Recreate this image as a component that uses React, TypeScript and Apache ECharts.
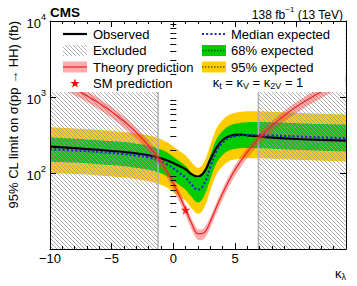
import React, { useEffect, useRef } from 'react';
import * as echarts from 'echarts';

// ---------- data ----------
const kGrid = [-10, -8, -6, -4, -3, -2, -1, -0.5, 0, 0.5, 1, 1.5, 2, 2.5, 3, 3.5, 4, 4.5, 5, 5.5, 6, 7, 8, 10, 12, 14];
const observed = [222, 212, 201, 189, 181, 171, 156, 146, 135, 124, 112, 96, 90, 103, 150, 215, 272, 303, 318, 320, 313, 302, 292, 280, 272, 267];
const medianExp = [205, 198, 189, 178, 170, 160, 143, 130, 115, 100, 87, 70, 60, 72, 120, 195, 250, 288, 305, 313, 316, 316, 312, 302, 293, 287];
const band68Up = [293, 283, 270, 255, 243, 229, 204, 186, 164, 143, 124, 100, 86, 103, 172, 279, 358, 415, 445, 460, 467, 470, 465, 452, 440, 432];
const band68Lo = [141, 137, 130, 123, 117, 110, 99, 90, 79, 69, 60, 48, 41, 50, 83, 135, 172, 197, 207, 212, 213, 212, 209, 202, 196, 192];
const band95Up = [400, 386, 369, 347, 332, 312, 279, 254, 224, 195, 170, 137, 117, 140, 234, 385, 500, 580, 620, 640, 650, 650, 642, 622, 603, 590];
const band95Lo = [100, 97, 93, 87, 83, 78, 70, 64, 56, 49, 43, 34, 29, 35, 59, 96, 123, 142, 150, 154, 156, 156, 154, 149, 145, 142];

const theoryK = [-10, -9, -8, -7, -6, -5, -4, -3, -2, -1, -0.5, 0, 0.5, 1, 1.5, 2, 2.5, 3, 3.5, 4, 4.5, 5, 5.5, 6, 7, 8, 9, 10, 11, 12, 13, 14];
const theory = [1809, 1527, 1269, 1035, 826, 640, 478, 341, 228, 140, 103, 73, 50, 33, 21.5, 15.8, 16.4, 23, 35.7, 54, 79, 110, 146, 189, 293, 420, 572, 748, 948, 1172, 1420, 1693];
const theoryUp = [2080, 1756, 1459, 1190, 950, 736, 550, 392, 262, 161, 118, 84, 57.5, 38, 24.7, 18.2, 18.9, 26.5, 41, 62, 91, 126.5, 168, 217, 337, 483, 658, 860, 1090, 1348, 1633, 1947];
const theoryLo = [1501, 1267, 1053, 859, 686, 531, 397, 283, 189, 116, 85.5, 60.6, 41.5, 27.4, 17.8, 13.1, 13.6, 19.1, 29.6, 44.8, 65.6, 91.3, 121, 157, 243, 349, 475, 621, 787, 973, 1179, 1405];

const smPrediction = [1, 32.7];
const excludedRegions = [
  [-10, -1.24],
  [6.9, 14],
];

const xMajorTicks = [-10, -5, 0, 5, 10];
const xMinorTicks = [-9, -8, -7, -6, -4, -3, -2, -1, 1, 2, 3, 4, 6, 7, 8, 9, 11, 12, 13];
const yMajorTicks = [10, 100, 1000, 10000];
const yLabelTicks = [100, 1000, 10000];
const yMinorTicks = [20, 30, 40, 50, 60, 70, 80, 90, 200, 300, 400, 500, 600, 700, 800, 900, 2000, 3000, 4000, 5000, 6000, 7000, 8000, 9000];

const X_MIN = -10;
const X_MAX = 14;
const Y_MIN = 10;
const Y_MAX = 10000;

const FONT = 'Liberation Sans';
const YELLOW = '#ffcc00';
const GREEN = '#00cc00';
const BLUE = '#2222d4';
const RED = '#f02828';
const RED_BAND = 'rgba(245, 60, 60, 0.42)';
const HATCH = '#9c9c9c';
const SMOOTH = 0.4;

function hatchLines(L: number, T: number, R: number, B: number, step: number, color: string, width: number) {
  const out: any[] = [];
  const cStart = Math.floor((L - B) / step) * step;
  for (let c = cStart; c <= R - T; c += step) {
    const xs = Math.max(L, T + c);
    const xe = Math.min(R, B + c);
    if (xe > xs) {
      out.push({
        type: 'line',
        shape: { x1: xs, y1: xs - c, x2: xe, y2: xe - c },
        style: { stroke: color, lineWidth: width },
        silent: true,
      });
    }
  }
  return out;
}

function starPoints(cx: number, cy: number, ro: number, ri: number) {
  const pts: number[][] = [];
  for (let i = 0; i < 10; i++) {
    const r = i % 2 === 0 ? ro : ri;
    const a = -Math.PI / 2 + (i * Math.PI) / 5;
    pts.push([cx + r * Math.cos(a), cy + r * Math.sin(a)]);
  }
  return pts;
}

const STAR_PATH =
  'path://M12,0 L14.7,8.3 L23.4,8.3 L16.4,13.5 L19.1,21.8 L12,16.7 L4.9,21.8 L7.6,13.5 L0.6,8.3 L9.3,8.3 Z';

function pairs(xs: number[], ys: number[]) {
  return xs.map((x, i) => [x, ys[i]]);
}

function buildOption() {
  const baseX: any = { type: 'value', min: X_MIN, max: X_MAX, z: 100, splitLine: { show: false } };
  const baseY: any = { type: 'log', logBase: 10, min: Y_MIN, max: Y_MAX, z: 100, splitLine: { show: false } };
  const lineBlack = { color: '#000', width: 1 };

  const xAxis = [
    {
      ...baseX,
      position: 'bottom',
      interval: 5,
      axisLine: { show: true, onZero: false, lineStyle: lineBlack },
      axisTick: { show: true, inside: true, length: 6, customValues: xMajorTicks, lineStyle: lineBlack },
      axisLabel: {
        show: true,
        customValues: xMajorTicks,
        showMaxLabel: false,
        margin: 3,
        fontFamily: FONT,
        fontSize: 13,
        color: '#000',
        formatter: (v: number) => (v < 0 ? '\u2212' + Math.abs(v) : String(v)),
      },
    },
    {
      ...baseX,
      position: 'bottom',
      interval: 1,
      axisLine: { show: false },
      axisTick: { show: true, inside: true, length: 3, customValues: xMinorTicks, lineStyle: lineBlack },
      axisLabel: { show: false },
    },
    {
      ...baseX,
      position: 'top',
      interval: 5,
      axisLine: { show: true, onZero: false, lineStyle: lineBlack },
      axisTick: { show: true, inside: true, length: 6, customValues: xMajorTicks, lineStyle: lineBlack },
      axisLabel: { show: false },
    },
    {
      ...baseX,
      position: 'top',
      interval: 1,
      axisLine: { show: false },
      axisTick: { show: true, inside: true, length: 3, customValues: xMinorTicks, lineStyle: lineBlack },
      axisLabel: { show: false },
    },
  ];

  const yAxis = [
    {
      ...baseY,
      position: 'left',
      axisLine: { show: true, onZero: false, lineStyle: lineBlack },
      axisTick: { show: true, inside: true, length: 6, customValues: yMajorTicks, lineStyle: lineBlack },
      axisLabel: {
        show: true,
        customValues: yLabelTicks,
        margin: 4,
        color: '#000',
        formatter: (v: number) => {
          const e = Math.round(Math.log10(v));
          if (e <= 1) return '';
          return '{b|10}{s|' + e + '}';
        },
        rich: {
          b: { fontFamily: FONT, fontSize: 13, lineHeight: 17, verticalAlign: 'bottom', color: '#000' },
          s: { fontFamily: FONT, fontSize: 9, lineHeight: 10, verticalAlign: 'top', color: '#000' },
        },
      },
    },
    {
      ...baseY,
      position: 'left',
      axisLine: { show: false },
      axisTick: { show: true, inside: true, length: 3, customValues: yMinorTicks, lineStyle: lineBlack },
      axisLabel: { show: false },
    },
    {
      ...baseY,
      position: 'right',
      axisLine: { show: true, onZero: false, lineStyle: lineBlack },
      axisTick: { show: true, inside: true, length: 6, customValues: yMajorTicks, lineStyle: lineBlack },
      axisLabel: { show: false },
    },
    {
      ...baseY,
      position: 'right',
      axisLine: { show: false },
      axisTick: { show: true, inside: true, length: 3, customValues: yMinorTicks, lineStyle: lineBlack },
      axisLabel: { show: false },
    },
  ];

  // Bands are painted as areas down to the axis floor, layered so that each
  // later layer overwrites the lower part of the earlier one.
  const areaLayer = (name: string, ys: number[], color: string, z2: number) => ({
    type: 'line',
    name,
    z: 2,
    zlevel: 0,
    data: pairs(kGrid, ys),
    showSymbol: false,
    symbol: 'none',
    smooth: SMOOTH,
    silent: true,
    lineStyle: { width: 0, opacity: 0 },
    areaStyle: { color, opacity: 1, origin: 'start' },
    z2,
  });

  const series: any[] = [
    { ...areaLayer('95% expected', band95Up, YELLOW, 0), z: 1 },
    { ...areaLayer('68% expected', band68Up, GREEN, 0), z: 1.2 },
    { ...areaLayer('68% lower', band68Lo, YELLOW, 0), z: 1.4 },
    { ...areaLayer('95% lower', band95Lo, '#ffffff', 0), z: 1.6 },
    {
      type: 'custom',
      name: 'Excluded',
      z: 3,
      silent: true,
      data: excludedRegions.map((r) => [r[0], r[1], Y_MIN, Y_MAX]),
      encode: { x: [0, 1], y: [2, 3] },
      renderItem: (params: any, api: any) => {
        const x0 = api.value(0);
        const x1 = api.value(1);
        const p0 = api.coord([x0, Y_MAX]);
        const p1 = api.coord([x1, Y_MIN]);
        const L = p0[0];
        const T = p0[1];
        const R = p1[0];
        const B = p1[1];
        const children = hatchLines(L, T, R, B, 4, HATCH, 0.8);
        if (x0 > X_MIN) {
          children.push({ type: 'line', shape: { x1: L, y1: T, x2: L, y2: B }, style: { stroke: '#b0b0b0', lineWidth: 1.5 } });
        }
        if (x1 < X_MAX) {
          children.push({ type: 'line', shape: { x1: R, y1: T, x2: R, y2: B }, style: { stroke: '#b0b0b0', lineWidth: 1.5 } });
        }
        return { type: 'group', children };
      },
    },
    {
      type: 'line',
      name: 'Observed',
      z: 4,
      data: pairs(kGrid, observed),
      showSymbol: false,
      symbol: 'none',
      smooth: SMOOTH,
      lineStyle: { color: '#000', width: 2.2 },
    },
    {
      type: 'line',
      name: 'Median expected',
      z: 4.5,
      data: pairs(kGrid, medianExp),
      showSymbol: false,
      symbol: 'none',
      smooth: SMOOTH,
      lineStyle: { color: BLUE, width: 2.2, type: [2, 2.2] },
    },
    {
      type: 'custom',
      name: 'Theory band',
      z: 5,
      silent: true,
      clip: true,
      data: theoryK.map((k, i) => [k, theoryLo[i], theoryUp[i]]),
      encode: { x: 0, y: [1, 2] },
      renderItem: (params: any, api: any) => {
        if (params.dataIndex !== 0) return null;
        const top = theoryK.map((k, i) => api.coord([k, theoryUp[i]]));
        const bot = theoryK.map((k, i) => api.coord([k, theoryLo[i]])).reverse();
        return {
          type: 'polygon',
          shape: { points: top.concat(bot), smooth: 0.3 },
          style: { fill: RED_BAND },
        };
      },
    },
    {
      type: 'line',
      name: 'Theory prediction',
      z: 6,
      data: pairs(theoryK, theory),
      showSymbol: false,
      symbol: 'none',
      smooth: SMOOTH,
      lineStyle: { color: RED, width: 1.3 },
    },
    {
      type: 'scatter',
      name: 'SM prediction',
      z: 7,
      data: [smPrediction],
      symbol: STAR_PATH,
      symbolSize: 10,
      itemStyle: { color: '#ff0000' },
    },
  ];

  // ----- legend & annotations (graphic) -----
  const g: any[] = [];
  g.push({ type: 'rect', z: 50, shape: { x: 50.5, y: 21, width: 295, height: 71 }, style: { fill: '#fff' }, silent: true });

  const Z = 120;
  const txt = (x: number, y: number, text: string, extra: any = {}) => ({
    type: 'text',
    z: Z,
    x,
    y,
    style: { text, font: `13px "${FONT}"`, fill: '#000', align: 'left', verticalAlign: 'middle', ...extra },
  });

  // header
  g.push({ type: 'text', z: Z, x: 50, y: 12.5, style: { text: 'CMS', font: `bold 13.5px "${FONT}"`, fill: '#000', align: 'left', verticalAlign: 'middle' } });
  g.push({
    type: 'text',
    z: Z,
    x: 343,
    y: 13,
    style: {
      text: '{a|138 fb}{s|\u22121}{a| (13 TeV)}',
      align: 'right',
      verticalAlign: 'middle',
      rich: {
        a: { fontFamily: FONT, fontSize: 12, lineHeight: 15, verticalAlign: 'bottom', fill: '#000' },
        s: { fontFamily: FONT, fontSize: 8, lineHeight: 9, verticalAlign: 'top', fill: '#000' },
      },
    },
  });

  // left legend column
  const lx0 = 63;
  const lx1 = 87;
  const ltx = 93;
  const rows = [34, 50.5, 67, 83.5];
  g.push({ type: 'line', z: Z, shape: { x1: lx0, y1: rows[0], x2: lx1, y2: rows[0] }, style: { stroke: '#000', lineWidth: 2.2 } });
  g.push(txt(ltx, rows[0], 'Observed'));
  g.push({ type: 'group', z: Z, children: hatchLines(lx0, rows[1] - 5.5, lx1, rows[1] + 5.5, 4, HATCH, 0.8).map((c) => ({ ...c, z: Z })) });
  g.push(txt(ltx, rows[1], 'Excluded'));
  g.push({ type: 'rect', z: Z, shape: { x: lx0, y: rows[2] - 5.5, width: lx1 - lx0, height: 11 }, style: { fill: RED_BAND } });
  g.push({ type: 'line', z: Z, shape: { x1: lx0, y1: rows[2], x2: lx1, y2: rows[2] }, style: { stroke: RED, lineWidth: 1.3 } });
  g.push(txt(ltx, rows[2], 'Theory prediction'));
  g.push({ type: 'polygon', z: Z, shape: { points: starPoints((lx0 + lx1) / 2, rows[3], 5, 2) }, style: { fill: '#ff0000' } });
  g.push(txt(ltx, rows[3], 'SM prediction'));

  // right legend column
  const rx0 = 202;
  const rx1 = 226;
  const rtx = 231;
  g.push({ type: 'line', z: Z, shape: { x1: rx0, y1: rows[0], x2: rx1, y2: rows[0] }, style: { stroke: BLUE, lineWidth: 2.2, lineDash: [2, 2.2] } });
  g.push(txt(rtx, rows[0], 'Median expected'));
  g.push({ type: 'rect', z: Z, shape: { x: rx0, y: rows[1] - 5.5, width: rx1 - rx0, height: 11 }, style: { fill: GREEN } });
  g.push({ type: 'line', z: Z + 1, shape: { x1: rx0, y1: rows[1], x2: rx1, y2: rows[1] }, style: { stroke: 'rgba(0,0,0,0.6)', lineWidth: 1.5, lineDash: [1.5, 1.5] } });
  g.push(txt(rtx, rows[1], '68% expected'));
  g.push({ type: 'rect', z: Z, shape: { x: rx0, y: rows[2] - 5.5, width: rx1 - rx0, height: 11 }, style: { fill: YELLOW } });
  g.push({ type: 'line', z: Z + 1, shape: { x1: rx0, y1: rows[2], x2: rx1, y2: rows[2] }, style: { stroke: 'rgba(0,0,0,0.6)', lineWidth: 1.5, lineDash: [1.5, 1.5] } });
  g.push(txt(rtx, rows[2], '95% expected'));
  g.push({
    type: 'text',
    z: Z,
    x: 258,
    y: 83,
    style: {
      text: '{k|\u03ba}{s|t}{k| = \u03ba}{s|V}{k| = \u03ba}{s|2V}{k| = 1}',
      align: 'center',
      verticalAlign: 'middle',
      rich: {
        k: { fontFamily: FONT, fontSize: 13, lineHeight: 14, verticalAlign: 'top', fill: '#000' },
        s: { fontFamily: FONT, fontSize: 9, lineHeight: 9, verticalAlign: 'bottom', fill: '#000' },
      },
    },
  });

  // axis titles
  g.push({
    type: 'text',
    z: Z,
    x: 13.5,
    y: 21,
    rotation: Math.PI / 2,
    style: { text: '95% CL limit on \u03c3(pp \u2192 HH) (fb)', font: `13px "${FONT}"`, fill: '#000', align: 'right', verticalAlign: 'middle' },
  });
  g.push({
    type: 'text',
    z: Z,
    x: 346,
    y: 274,
    style: {
      text: '{k|\u03ba}{s|\u03bb}',
      align: 'right',
      verticalAlign: 'middle',
      rich: {
        k: { fontFamily: FONT, fontSize: 13, lineHeight: 14, verticalAlign: 'top', fill: '#000' },
        s: { fontFamily: FONT, fontSize: 9, lineHeight: 9, verticalAlign: 'bottom', fill: '#000' },
      },
    },
  });

  return {
    animation: false,
    backgroundColor: '#fff',
    textStyle: { fontFamily: FONT },
    grid: { left: 50, right: 11, top: 21, bottom: 37, containLabel: false },
    xAxis,
    yAxis,
    series,
    graphic: g,
  };
}

export default function App() {
  const ref = useRef<HTMLDivElement>(null);
  useEffect(() => {
    if (!ref.current) return;
    const chart = echarts.init(ref.current, undefined, { renderer: 'svg' });
    chart.setOption(buildOption() as any);
    return () => chart.dispose();
  }, []);
  return (
    <div
      ref={ref}
      style={{ position: 'fixed', left: 0, top: 0, width: 357, height: 286, background: '#fff' }}
    />
  );
}
